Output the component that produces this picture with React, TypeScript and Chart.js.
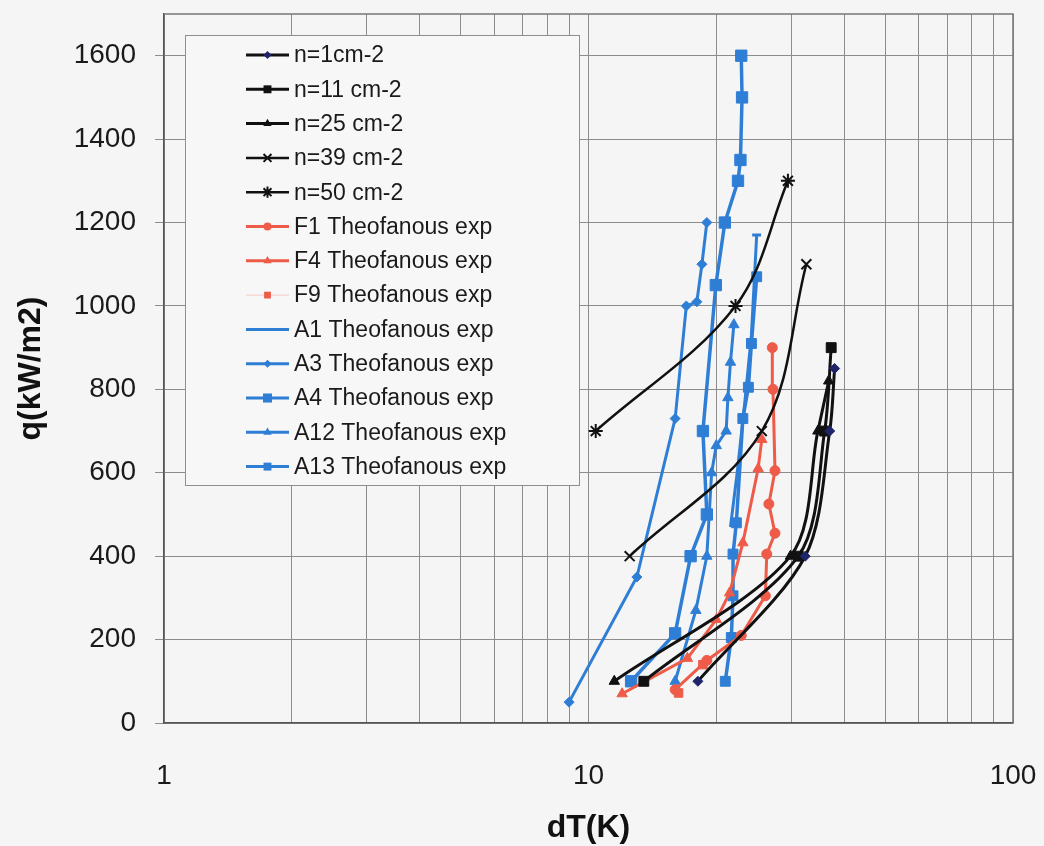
import React, { useEffect, useRef } from 'react';
import { Chart, registerables } from 'chart.js';
Chart.register(...registerables);

// ---- data (dT in K, q in kW/m2) ----
const n1_dT = [18.1, 32.4, 37.0, 38.0];
const n1_q = [100, 400, 700, 850];
const n11_dT = [13.5, 31.2, 36.0, 37.3];
const n11_q = [100, 400, 700, 900];
const n25_dT = [11.5, 29.9, 34.7, 36.8];
const n25_q = [100, 400, 700, 820];
const n39_dT = [12.5, 25.6, 32.6];
const n39_q = [400, 700, 1100];
const n50_dT = [10.4, 22.2, 29.5];
const n50_q = [700, 1000, 1300];
const F1_dT = [16.0, 19.0, 22.9, 26.1, 26.3, 27.5, 26.6, 27.5, 27.2, 27.1];
const F1_q = [80, 150, 210, 305, 405, 455, 525, 605, 800, 900];
const F4_dT = [12.0, 17.1, 20.0, 21.5, 23.1, 25.1, 25.6];
const F4_q = [70, 155, 248, 312, 432, 610, 680];
const F9_dT = [16.3, 18.6];
const F9_q = [72, 140];
const A1_dT = [21.6, 22.4, 23.3, 24.2, 24.9, 24.3, 25.5];
const A1_q = [470, 600, 760, 930, 1170, 1170, 1170];
const A3_dT = [9.0, 13.0, 16.0, 17.0, 18.0, 18.5, 19.0];
const A3_q = [50, 350, 730, 1000, 1010, 1100, 1200];
const A4_dT = [12.6, 16.0, 17.4, 19.0, 18.6, 19.95, 20.95, 22.5, 22.8, 23.0, 22.9];
const A4_q = [100, 215, 400, 500, 700, 1050, 1200, 1300, 1350, 1500, 1600];
const A12_dT = [16.0, 17.9, 19.0, 19.5, 20.0, 21.1, 21.3, 21.6, 22.0];
const A12_q = [100, 270, 400, 600, 665, 700, 780, 865, 955];
const A13_dT = [21.0, 21.7, 21.9, 21.9, 22.3, 23.1, 23.8, 24.2, 24.9];
const A13_q = [100, 205, 305, 405, 480, 730, 805, 910, 1070];

const xTickValues = [1, 2, 3, 4, 5, 6, 7, 8, 9, 10, 20, 30, 40, 50, 60, 70, 80, 90, 100];
const xLabelValues = [1, 10, 100];

const BLACK = '#111111';
const NAVY = '#1f2468';
const RED = '#ee5b48';
const BLUE = '#2f7ed6';
const FONT = "'Liberation Sans', Arial, sans-serif";

const pts = (xs: number[], ys: number[]) => xs.map((x, i) => ({ x, y: ys[i] }));

function mk(label: string, xs: number[], ys: number[], o: any) {
  return {
    label,
    data: pts(xs, ys),
    showLine: o.showLine !== false,
    borderColor: o.color,
    backgroundColor: o.fill || o.color,
    pointBorderColor: o.fill || o.color,
    pointBackgroundColor: o.fill || o.color,
    borderWidth: o.width || 3,
    pointStyle: o.style || false,
    pointRadius: o.r || 0,
    pointBorderWidth: o.pbw || 1,
    tension: o.tension || 0,
  };
}

function drawMarker(ctx: CanvasRenderingContext2D, style: any, x: number, y: number, r: number, color: string, lw: number) {
  if (!style || r <= 0) return;
  ctx.save();
  ctx.fillStyle = color;
  ctx.strokeStyle = color;
  ctx.lineWidth = lw;
  ctx.beginPath();
  if (style === 'circle') {
    ctx.arc(x, y, r, 0, Math.PI * 2);
    ctx.fill();
  } else if (style === 'rect') {
    const s = r * Math.SQRT1_2;
    ctx.rect(x - s, y - s, 2 * s, 2 * s);
    ctx.fill();
  } else if (style === 'rectRot') {
    ctx.moveTo(x, y - r); ctx.lineTo(x + r, y); ctx.lineTo(x, y + r); ctx.lineTo(x - r, y); ctx.closePath();
    ctx.fill();
  } else if (style === 'triangle') {
    ctx.moveTo(x, y - r);
    ctx.lineTo(x + r * 0.866, y + r * 0.5);
    ctx.lineTo(x - r * 0.866, y + r * 0.5);
    ctx.closePath();
    ctx.fill();
  } else if (style === 'crossRot') {
    const s = r * Math.SQRT1_2;
    ctx.moveTo(x - s, y - s); ctx.lineTo(x + s, y + s);
    ctx.moveTo(x - s, y + s); ctx.lineTo(x + s, y - s);
    ctx.stroke();
  } else if (style === 'star') {
    const s = r * Math.SQRT1_2;
    ctx.moveTo(x - s, y - s); ctx.lineTo(x + s, y + s);
    ctx.moveTo(x - s, y + s); ctx.lineTo(x + s, y - s);
    ctx.moveTo(x, y - r); ctx.lineTo(x, y + r);
    ctx.stroke();
  }
  ctx.restore();
}

const bgPlugin = {
  id: 'bg',
  beforeDraw(chart: any) {
    const ctx = chart.ctx;
    ctx.save();
    ctx.fillStyle = '#f5f5f5';
    ctx.fillRect(0, 0, chart.width, chart.height);
    ctx.restore();
  },
  beforeDatasetsDraw(chart: any) {
    const { ctx, chartArea: a } = chart;
    ctx.save();
    ctx.strokeStyle = '#777777';
    ctx.lineWidth = 1.5;
    ctx.beginPath();
    ctx.moveTo(a.left, a.top);
    ctx.lineTo(a.right, a.top);
    ctx.lineTo(a.right, a.bottom);
    ctx.stroke();
    ctx.restore();
  },
};

const legendPlugin = {
  id: 'boxLegend',
  afterDatasetsDraw(chart: any) {
    const ctx = chart.ctx;
    ctx.save();
    ctx.fillStyle = '#f7f7f7';
    ctx.strokeStyle = '#8f8f8f';
    ctx.lineWidth = 1;
    ctx.fillRect(185.5, 35.5, 394, 450);
    ctx.strokeRect(185.5, 35.5, 394, 450);
    chart.data.datasets.forEach((ds: any, i: number) => {
      const y = 55 + i * 34.3;
      ctx.save();
      if (ds.showLine) {
        ctx.strokeStyle = ds.borderColor;
        ctx.lineWidth = Math.min(ds.borderWidth, 3);
      } else {
        ctx.strokeStyle = '#f2c9c3';
        ctx.lineWidth = 1;
      }
      ctx.beginPath();
      ctx.moveTo(246, y);
      ctx.lineTo(289, y);
      ctx.stroke();
      ctx.restore();
      drawMarker(ctx, ds.pointStyle, 267.5, y, ds.pointRadius * 0.8, ds.pointBackgroundColor, 2);
      ctx.fillStyle = '#1a1a1a';
      ctx.font = `23px ${FONT}`;
      ctx.textBaseline = 'middle';
      ctx.textAlign = 'left';
      ctx.fillText(ds.label, 294, y + 1);
    });
    ctx.restore();
  },
};

export default function App() {
  const ref = useRef<HTMLCanvasElement>(null);
  useEffect(() => {
    document.body.style.margin = '0';
    document.body.style.background = '#f5f5f5';
    const datasets = [
      mk('n=1cm-2', n1_dT, n1_q, { color: BLACK, fill: NAVY, style: 'rectRot', r: 5, width: 3, tension: 0.3 }),
      mk('n=11 cm-2', n11_dT, n11_q, { color: BLACK, style: 'rect', r: 7, width: 3, tension: 0.3 }),
      mk('n=25 cm-2', n25_dT, n25_q, { color: BLACK, style: 'triangle', r: 6, width: 3, tension: 0.3 }),
      mk('n=39 cm-2', n39_dT, n39_q, { color: BLACK, style: 'crossRot', r: 7, width: 2.5, pbw: 2, tension: 0.35 }),
      mk('n=50 cm-2', n50_dT, n50_q, { color: BLACK, style: 'star', r: 7, width: 2.5, pbw: 2, tension: 0.35 }),
      mk('F1 Theofanous exp', F1_dT, F1_q, { color: RED, style: 'circle', r: 5, width: 3 }),
      mk('F4 Theofanous exp', F4_dT, F4_q, { color: RED, style: 'triangle', r: 6, width: 3 }),
      mk('F9 Theofanous exp', F9_dT, F9_q, { color: RED, style: 'rect', r: 6, showLine: false }),
      mk('A1 Theofanous exp', A1_dT, A1_q, { color: BLUE, style: false, r: 0, width: 3 }),
      mk('A3 Theofanous exp', A3_dT, A3_q, { color: BLUE, style: 'rectRot', r: 5, width: 3 }),
      mk('A4 Theofanous exp', A4_dT, A4_q, { color: BLUE, style: 'rect', r: 8, width: 3.5 }),
      mk('A12 Theofanous exp', A12_dT, A12_q, { color: BLUE, style: 'triangle', r: 6, width: 3 }),
      mk('A13 Theofanous exp', A13_dT, A13_q, { color: BLUE, style: 'rect', r: 7, width: 3.5 }),
    ];
    const chart = new Chart(ref.current as HTMLCanvasElement, {
      type: 'scatter',
      data: { datasets },
      plugins: [bgPlugin, legendPlugin],
      options: {
        animation: false,
        responsive: false,
        devicePixelRatio: 1,
        layout: { padding: { top: 14, right: 31, left: 0, bottom: 0 } },
        plugins: { legend: { display: false }, tooltip: { enabled: false } },
        scales: {
          x: {
            type: 'logarithmic',
            min: 1,
            max: 100,
            afterBuildTicks: (axis: any) => {
              axis.ticks = xTickValues.map((v) => ({ value: v }));
            },
            afterFit: (s: any) => {
              s.height = 123;
              s.paddingLeft = 0;
              s.paddingRight = 0;
            },
            ticks: {
              autoSkip: false,
              maxRotation: 0,
              padding: 36,
              color: '#1a1a1a',
              font: { family: FONT, size: 28 },
              callback: (v: any) => (xLabelValues.includes(Number(v)) ? String(v) : ''),
            },
            grid: { color: '#8c8c8c', lineWidth: 1, drawTicks: false },
            border: { color: '#555555', width: 1.5 },
            title: {
              display: true,
              text: 'dT(K)',
              color: '#111111',
              font: { family: FONT, size: 32, weight: 'bold', lineHeight: 1.1 },
              padding: { top: 0, bottom: 0 },
            },
          },
          y: {
            type: 'linear',
            min: 0,
            max: 1700,
            afterBuildTicks: (axis: any) => {
              axis.ticks = axis.ticks.filter((t: any) => t.value <= 1600);
            },
            afterFit: (s: any) => {
              s.width = 164;
              s.paddingTop = 0;
              s.paddingBottom = 0;
            },
            ticks: {
              stepSize: 200,
              padding: 19,
              color: '#1a1a1a',
              font: { family: FONT, size: 28 },
              callback: (v: any) => String(v),
            },
            grid: { color: '#8c8c8c', lineWidth: 1, drawTicks: true, tickLength: 9 },
            border: { color: '#555555', width: 1.5 },
            title: {
              display: true,
              text: 'q(kW/m2)',
              color: '#111111',
              font: { family: FONT, size: 32, weight: 'bold', lineHeight: 1.2 },
              padding: { top: 12, bottom: 0 },
            },
          },
        },
      } as any,
    });
    return () => chart.destroy();
  }, []);
  return (
    <div style={{ position: 'fixed', left: 0, top: 0, width: 1044, height: 846, background: '#f5f5f5' }}>
      <canvas ref={ref} width={1044} height={846} />
    </div>
  );
}
